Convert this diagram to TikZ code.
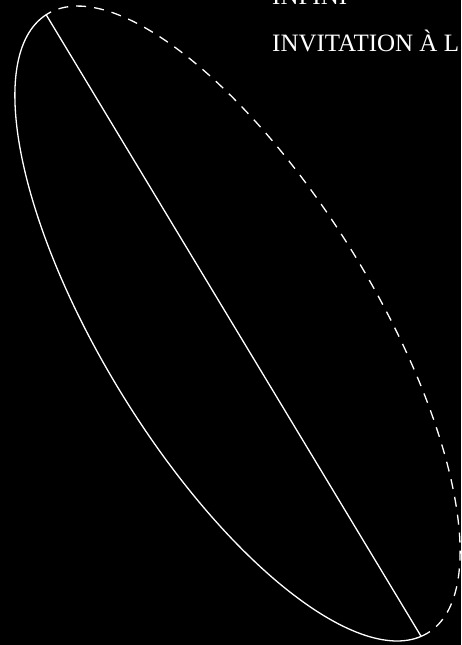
\documentclass[tikz,border=0pt]{standalone}
\usepackage{fontspec}
\setmainfont{Liberation Serif}
\begin{document}
\begin{tikzpicture}[
  curve/.style={white, line width=1.3pt},
  backcurve/.style={white, line width=1.3pt, dash pattern=on 10pt off 8pt},
  label/.style={white, anchor=base west, inner sep=0pt, font=\fontsize{25}{30}\selectfont}
]
\useasboundingbox (0,0) rectangle (461pt,645pt);
\fill[black] (0,0) rectangle (461pt,645pt);
\begin{scope}[shift={(237.5pt,321.5pt)}, rotate=-58.4]
  \coordinate (A) at (180.5:363.3pt and 135.5pt);
  \coordinate (B) at (356.8:363.3pt and 135.5pt);
  \draw[curve] (A) arc[start angle=180.5, end angle=356.8, x radius=363.3pt, y radius=135.5pt];
  \draw[backcurve] (B) arc[start angle=356.8, end angle=540.5, x radius=363.3pt, y radius=135.5pt];
  \draw[curve] (A) -- (B);
\end{scope}
\node[label] (t1) at (272pt,640pt) {INFINI};
\node[label] (t2) at (272pt,593.3pt) {INVITATION À L};
\end{tikzpicture}
\end{document}
